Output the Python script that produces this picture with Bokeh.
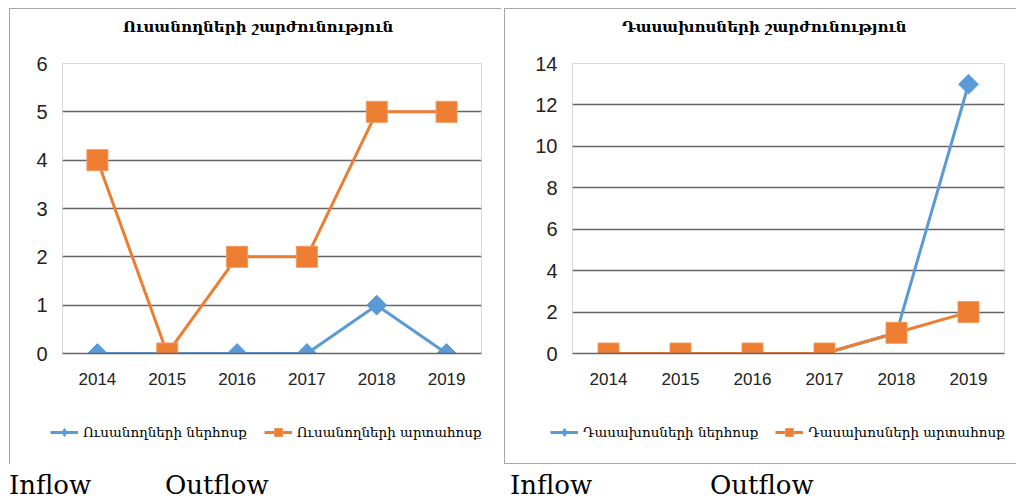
import numpy as np
from bokeh.plotting import figure
from bokeh.models import (FactorRange, Range1d, Legend, LegendItem, Div, Spacer,
                          SingleIntervalTicker)
from bokeh.layouts import row, column
from bokeh.embed import file_html
from bokeh.resources import INLINE

years = ["2014", "2015", "2016", "2017", "2018", "2019"]
students_in = [0, 0, 0, 0, 1, 0]
students_out = [4, 0, 2, 2, 5, 5]
lecturers_in = [0, 0, 0, 0, 1, 13]
lecturers_out = [0, 0, 0, 0, 1, 2]

title_students = "Ուսանողների շարժունություն"
title_lecturers = "Դասախոսների շարժունություն"
lab_s_in = "Ուսանողների ներհոսք"
lab_s_out = "Ուսանողների արտահոսք"
lab_l_in = "Դասախոսների ներհոսք"
lab_l_out = "Դասախոսների արտահոսք"
bottom_labels = ["Inflow", "Outflow", "Inflow", "Outflow"]

BLUE = "#5B9BD5"
ORANGE = "#ED7D31"
GRID = "#666666"
BORDER = "#a6a6a6"


def add_series(p, yin, yout, visible=True, diamond="square"):
    r1 = p.line(years, yin, line_color=BLUE, line_width=3, visible=visible)
    s1 = p.scatter(years, yin, marker=diamond,
                   angle=(np.pi / 4 if diamond == "square" else 0), size=14,
                   fill_color=BLUE, line_color=BLUE, visible=visible)
    r2 = p.line(years, yout, line_color=ORANGE, line_width=3, visible=visible)
    s2 = p.scatter(years, yout, marker="square", size=21,
                   fill_color=ORANGE, line_color="#F29A5E", visible=visible)
    return r1, s1, r2, s2


def make_title(text, width, pad_left, styles):
    html = (f'<div style="padding-left:{pad_left}px;white-space:nowrap;'
            f'line-height:36px;font-weight:bold">{text}</div>')
    st = {"font-family": "DejaVu Serif", "font-size": "15px", "color": "#000000"}
    st.update(styles)
    return Div(text=html, width=width, height=43, margin=0, styles=st)


def make(yin, yout, ymax, ystep, width, left, right, styles):
    p = figure(x_range=FactorRange(*years), y_range=Range1d(0, ymax),
               width=width, height=348, output_backend="svg", toolbar_location=None,
               min_border_left=left, min_border_right=right,
               min_border_top=12, min_border_bottom=46, styles=styles)
    p.outline_line_color = "#d9d9d9"
    p.background_fill_color = "white"
    p.border_fill_color = "white"

    p.yaxis.ticker = SingleIntervalTicker(interval=ystep)
    p.yaxis.axis_line_color = None
    p.yaxis.major_tick_line_color = None
    p.yaxis.minor_tick_line_color = None
    p.yaxis.major_label_text_font = "Liberation Sans"
    p.yaxis.major_label_text_font_size = "20px"
    p.yaxis.major_label_text_color = "#222222"
    p.yaxis.major_label_standoff = 9

    p.xaxis.axis_line_color = GRID
    p.xaxis.axis_line_width = 1.5
    p.xaxis.major_tick_line_color = None
    p.xaxis.minor_tick_line_color = None
    p.xaxis.major_label_text_font = "Liberation Sans"
    p.xaxis.major_label_text_font_size = "17px"
    p.xaxis.major_label_text_color = "#222222"
    p.xaxis.major_label_standoff = 13

    p.xgrid.grid_line_color = None
    p.ygrid.grid_line_color = GRID
    p.ygrid.grid_line_width = 1.5

    add_series(p, yin, yout)
    return p


def make_legend(yin, yout, lin, lout, width, legx, styles):
    q = figure(x_range=FactorRange(*years), y_range=Range1d(0, 1),
               width=width, height=65, output_backend="svg", toolbar_location=None,
               x_axis_location=None, y_axis_location=None,
               min_border=0, min_border_left=0, min_border_right=0,
               min_border_top=0, min_border_bottom=0, styles=styles)
    if "frame_align" in q.properties():
        q.frame_align = False
    q.grid.visible = False
    q.outline_line_color = None
    q.background_fill_color = "white"
    q.border_fill_color = "white"
    r1, s1, r2, s2 = add_series(q, yin, yout, visible=False, diamond="diamond")
    leg = Legend(items=[LegendItem(label=lin, renderers=[r1, s1]),
                        LegendItem(label=lout, renderers=[r2, s2])],
                 orientation="horizontal", location=(legx, 22),
                 border_line_color=None, background_fill_alpha=0,
                 inactive_fill_alpha=0,
                 label_text_font="DejaVu Serif", label_text_font_size="13.5px",
                 label_text_color="#000000",
                 glyph_width=28, glyph_height=20, label_standoff=5, spacing=17,
                 padding=2, margin=0, click_policy="none")
    q.add_layout(leg, "center")
    return q


bl = f"1px solid {BORDER}"
t1 = make_title(title_students, 492, 113, {"border-left": bl, "border-top": bl})
p1 = make(students_in, students_out, 6, 1, 492, 52, 21, {"border-left": bl})
l1 = make_legend(students_in, students_out, lab_s_in, lab_s_out, 492, 40,
                 {"border-left": bl})
t2 = make_title(title_lecturers, 512, 117, {"border-left": bl, "border-top": bl})
p2 = make(lecturers_in, lecturers_out, 14, 2, 512, 67, 13, {"border-left": bl})
l2 = make_legend(lecturers_in, lecturers_out, lab_l_in, lab_l_out, 512, 45,
                 {"border-left": bl, "border-bottom": bl})


def label(txt, w):
    html = f'<div style="padding-top:8px;line-height:26px">{txt}</div>'
    return Div(text=html, width=w, height=34, margin=0,
               styles={"font-family": "DejaVu Serif", "font-size": "26px",
                       "color": "#000000", "overflow": "visible"})


divs = row(Spacer(width=9), label(bottom_labels[0], 156), label(bottom_labels[1], 345),
           label(bottom_labels[2], 200), label(bottom_labels[3], 300), spacing=0)

charts = row(Spacer(width=9), column(t1, p1, l1, spacing=0), Spacer(width=3),
             column(t2, p2, l2, spacing=0), spacing=0)
layout = column(Spacer(height=8), charts, divs, spacing=0)

open("out.html", "w").write(file_html(layout, INLINE))
